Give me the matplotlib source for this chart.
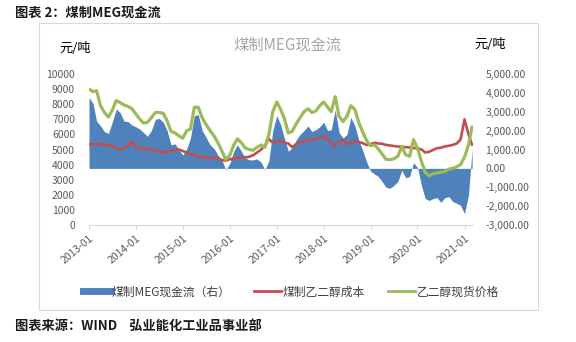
import matplotlib
matplotlib.use('Agg')
import matplotlib.pyplot as plt
import matplotlib.dates as mdates
from matplotlib.patches import Rectangle
from matplotlib.lines import Line2D
import pandas as pd

plt.rcParams['font.family'] = ['Noto Sans CJK SC', 'DejaVu Sans']

# monthly readings, 2013-01 .. 2021-03
months = pd.date_range('2013-01-01', periods=99, freq='MS')

# 乙二醇现货价格 (left axis, 元/吨)
spot_price = [9000, 8830, 8900, 7900, 7450, 7150, 7600, 8250, 8100, 7950,
              7850, 7700, 7350, 7000, 6750, 6800, 7100, 7450, 7450, 7400,
              6900, 6200, 6100, 5900, 5750, 6250, 6350, 7800, 7800, 7100,
              6650, 6250, 5900, 5450, 4900, 4350, 4600, 5300, 5700, 5450,
              5100, 5000, 4950, 5150, 5300, 5150, 6000, 7500, 8150, 7650,
              7050, 6100, 6200, 6700, 7100, 7500, 7700, 7450, 7550, 7900,
              8150, 7800, 7500, 8500, 7200, 6850, 7200, 7900, 7650, 6800,
              6150, 5600, 5250, 5300, 5050, 4700, 4350, 4330, 4380, 4550,
              5200, 4650, 4550, 5650, 5100, 4200, 3500, 3250, 3400, 3450,
              3500, 3550, 3700, 3750, 3850, 4000, 4500, 5300, 6500]

# 煤制乙二醇成本 (left axis)
coal_cost = [5350, 5350, 5350, 5340, 5320, 5300, 5200, 5100, 5020, 5100,
             5250, 5500, 5150, 5050, 5050, 5050, 5000, 4950, 4850, 4830,
             4830, 4900, 4970, 5000, 4900, 4800, 4700, 4650, 4550, 4500,
             4480, 4470, 4450, 4400, 4300, 4270, 4350, 4400, 4440, 4460,
             4480, 4520, 4620, 4800, 5000, 5250, 5700, 5450, 5500, 5630,
             5450, 5400, 5150, 5350, 5450, 5550, 5650, 5650, 5700, 5800,
             5880, 5700, 5400, 5250, 5500, 5650, 5350, 5450, 5520, 5500,
             5420, 5300, 5350, 5450, 5400, 5380, 5300, 5270, 5230, 5200,
             5180, 5150, 5140, 5100, 5080, 5000, 4800, 4850, 4970, 5080,
             5120, 5200, 5250, 5300, 5400, 5650, 7000, 6000, 5300]

# 煤制MEG现金流 (right axis)
cash_flow = [3750, 3450, 2500, 2250, 1950, 1850, 2450, 3150, 2950, 2500,
             2480, 2300, 2200, 2080, 1900, 1700, 2000, 2600, 2650, 2450,
             2000, 1250, 1300, 1000, 700, 1050, 1600, 2800, 2850, 2000,
             1650, 1250, 1050, 700, 450, -80, 250, 900, 1250, 900,
             550, 450, 450, 500, 330, -80, 400, 2000, 2800, 2300,
             1600, 900, 1100, 1500, 1800, 2000, 2250, 1950, 2050, 2200,
             2450, 2000, 2050, 3100, 1900, 1600, 1800, 2700, 2250, 1500,
             950, 350, -150, -300, -420, -700, -1000, -1050, -900, -700,
             -100, -500, -430, 300, 50, -900, -1600, -1700, -1600, -1550,
             -1800, -1550, -1500, -1750, -1850, -1950, -2400, -1400, 1000]

left_ticks = list(range(0, 10001, 1000))
right_ticks = list(range(-3000, 5001, 1000))

W, H = 576, 342
fig = plt.figure(figsize=(W / 100, H / 100), dpi=100)

ax = fig.add_axes([89 / W, 117 / H, 384 / W, 151 / H])
ax2 = ax.twinx()
# lines on top of the area
ax.set_zorder(ax2.get_zorder() + 1)
ax.patch.set_visible(False)

blue, red, green = '#4f81bd', '#c0504d', '#9bbb59'
tick_col = '#595959'

ax2.fill_between(months, 0, cash_flow, color=blue, lw=0)
ax.plot(months, coal_cost, color=red, lw=1.9, solid_capstyle='round')
ax.plot(months, spot_price, color=green, lw=2.3, solid_capstyle='round')

ax.set_ylim(0, 10000)
ax2.set_ylim(-3000, 5000)
ax.set_xlim(pd.Timestamp('2013-01-01'), pd.Timestamp('2021-03-08'))
ax.set_yticks(left_ticks)
ax2.set_yticks(right_ticks)
ax2.set_yticklabels([f'{v:,.2f}' for v in right_ticks])

ax.xaxis.set_major_locator(mdates.YearLocator())
ax.xaxis.set_major_formatter(mdates.DateFormatter('%Y-%m'))
plt.setp(ax.get_xticklabels(), rotation=40, ha='right', rotation_mode='anchor')

for a in (ax, ax2):
    for s in ('top', 'left', 'right'):
        a.spines[s].set_visible(False)
    a.spines['bottom'].set_color('#d9d9d9')
    a.tick_params(axis='y', length=0, labelsize=7.5, labelcolor=tick_col)
ax.tick_params(axis='y', pad=10)
ax2.tick_params(axis='y', pad=9)
ax2.spines['bottom'].set_visible(False)
ax.tick_params(axis='x', length=3, color='#d9d9d9', labelsize=7.5,
               labelcolor=tick_col, pad=3)

# titles and units
fig.text(287 / W, 1 - 45 / H, '煤制MEG现金流', color='#a6a6a6', fontsize=11,
         ha='center', va='center')
fig.text(75 / W, 1 - 48 / H, '元/吨', fontsize=9.5, ha='center', va='center')
fig.text(490 / W, 1 - 45 / H, '元/吨', fontsize=9.5, ha='center', va='center')

fig.text(15 / W, 1 - 13 / H, '图表 2：煤制MEG现金流', fontsize=9.5,
         fontweight='bold', color='#1a1a1a', ha='left', va='center')
fig.text(15 / W, 1 - 326 / H, '图表来源：WIND    弘业能化工业品事业部',
         fontsize=9.5, fontweight='bold', color='#1a1a1a', ha='left', va='center')

# outer frame
fig.add_artist(Rectangle((39 / W, 1 - 310 / H), 499 / W, 287 / H,
                         transform=fig.transFigure, fill=False,
                         ec='#d9d9d9', lw=0.8))

handles = [Line2D([], [], color=blue, lw=5),
           Line2D([], [], color=red, lw=2),
           Line2D([], [], color=green, lw=2)]
labels = ['煤制MEG现金流（右）', '煤制乙二醇成本', '乙二醇现货价格']
leg = fig.legend(handles, labels, loc='center', bbox_to_anchor=(291 / W, 1 - 292 / H),
                 ncol=3, frameon=False, fontsize=8.5, handlelength=2.3,
                 handletextpad=0.1, columnspacing=2.0)
for t in leg.get_texts():
    t.set_color('#404040')

plt.savefig('out.png', dpi=100)
